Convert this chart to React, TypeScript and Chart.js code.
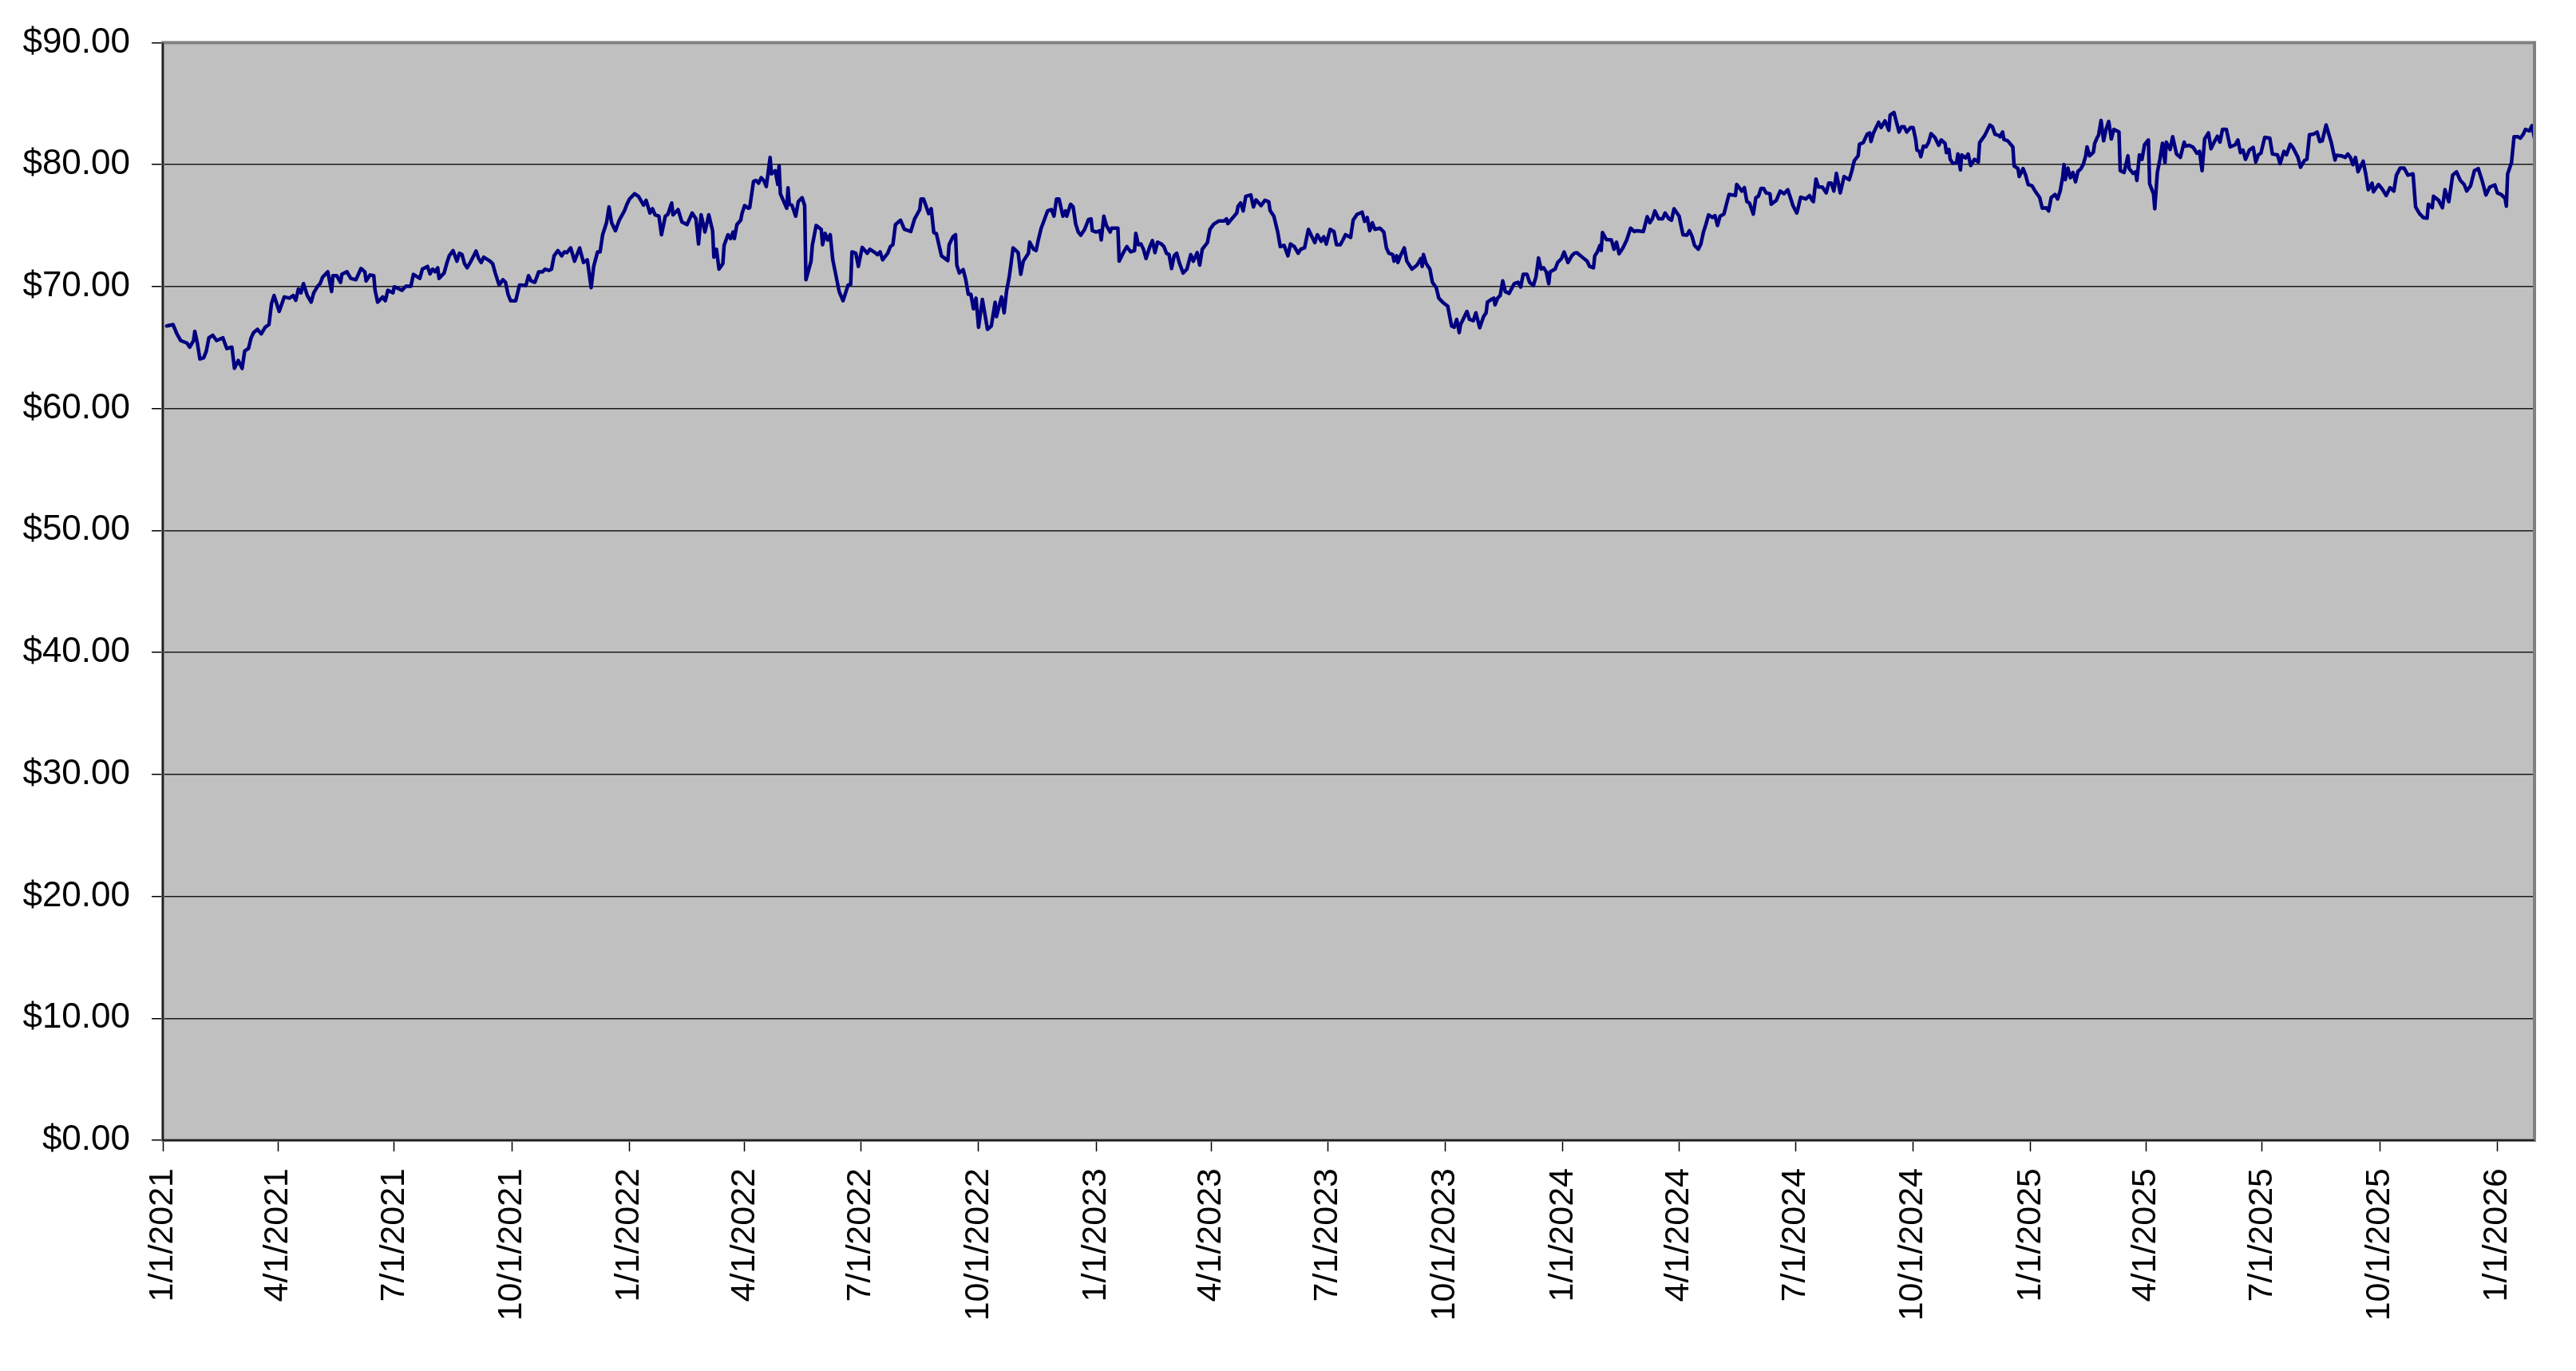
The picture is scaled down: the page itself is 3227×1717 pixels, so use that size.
import { useEffect, useRef } from "react";
import { Chart, registerables } from "chart.js";

Chart.register(...registerables);

// Axis reference date (x values are days since this date)
const startDate = "1/1/2021";

// Quarterly tick labels on the date axis
const tickDates = [
  "1/1/2021", "4/1/2021", "7/1/2021", "10/1/2021",
  "1/1/2022", "4/1/2022", "7/1/2022", "10/1/2022",
  "1/1/2023", "4/1/2023", "7/1/2023", "10/1/2023",
  "1/1/2024", "4/1/2024", "7/1/2024", "10/1/2024",
  "1/1/2025", "4/1/2025", "7/1/2025", "10/1/2025",
  "1/1/2026",
];

// Last date on the axis (days since start)
const axisEndDay = 1855;

// Y axis range and step (dollars)
const yMin = 0;
const yMax = 90;
const yStep = 10;

// Observation dates (days since 1/1/2021)
const daysSinceStart = [
  3, 8, 11, 14, 19, 21, 24, 25, 27, 29, 32, 34, 36, 39, 42, 47, 50, 54, 56, 59,
  62, 64, 67, 69, 71, 74, 77, 80, 83, 85, 87, 91, 95, 99, 102, 104, 106, 108, 110, 113,
  116, 118, 121, 123, 125, 129, 132, 133, 136, 139, 140, 144, 147, 151, 155, 158, 159, 162, 165, 166,
  168, 172, 174, 176, 180, 181, 185, 187, 190, 194, 196, 201, 203, 207, 209, 211, 213, 215, 216, 220,
  222, 224, 227, 230, 232, 234, 236, 238, 241, 245, 247, 249, 251, 256, 258, 260, 263, 266, 268, 270,
  272, 276, 279, 284, 286, 288, 291, 294, 297, 299, 302, 304, 306, 309, 312, 314, 316, 319, 322,
  326, 329, 332, 335, 337, 340, 342, 344, 347, 349, 351, 354, 357, 361, 363, 365, 369, 372, 376, 378,
  381, 383, 385, 388, 390, 393, 395, 398, 399, 403, 406, 410, 414, 417, 419, 421, 424, 427, 430, 431,
  433, 435, 438, 439, 442, 444, 446, 447, 449, 452, 453, 455, 458, 459, 462, 464, 466, 468, 470, 472,
  475, 476, 479, 481, 482, 483, 488, 489, 490, 492, 495, 497, 500, 502, 503, 507, 508, 511, 515, 516,
  518, 520, 522, 524, 529, 532, 536, 538, 539, 542, 544, 547, 551, 553, 557, 559, 561, 563, 567, 569,
  571, 573, 577, 580, 585, 588, 592, 593, 595, 599, 601, 603, 605, 607, 609, 614, 615, 618, 620, 621,
  623, 626, 628, 630, 632, 634,
  636, 638, 641, 645, 648, 651, 652, 656, 658, 660, 662, 663, 665, 669, 671, 673, 677, 678, 681, 683,
  685, 687, 689, 692, 695, 697, 699, 701, 704, 706, 707, 710, 712, 714, 716, 718, 721, 724, 726, 727,
  730, 733, 734, 736, 738, 741, 742, 747, 748, 751, 754, 757, 760, 761, 763, 765, 767, 769, 772, 774,
  776, 778, 781, 783, 785, 787, 789, 791, 793, 795, 798, 801, 804, 806, 809, 811, 813, 817, 819, 822,
  826, 830, 832, 833, 837, 840, 841, 843, 845, 847, 851, 853, 855, 859, 862, 865, 866, 869, 872, 874,
  877, 880, 882, 885, 888, 890, 893, 896, 898, 901, 903, 906, 908, 910, 913, 916, 918, 921, 923, 925,
  929, 931, 934, 938, 940, 942, 944,
  946, 948, 952, 955, 957, 959, 962, 963, 965, 966, 968, 971, 973, 977, 981, 984, 985, 986, 988, 991,
  993, 996, 998, 1001, 1005, 1006, 1008, 1010, 1012, 1014, 1015, 1017, 1020, 1022, 1025, 1027, 1030, 1033, 1035, 1036,
  1039, 1041, 1042, 1044, 1046, 1048, 1050, 1053, 1057, 1060, 1062, 1064, 1067, 1069, 1072, 1074, 1076, 1078, 1080, 1082,
  1084, 1085, 1089, 1091, 1094, 1096, 1099, 1102, 1104, 1106, 1111, 1114, 1116, 1119, 1120, 1122, 1124, 1125, 1126, 1129,
  1133, 1135, 1137, 1139, 1142, 1145, 1148, 1151, 1153, 1158, 1161, 1163, 1165, 1167, 1170, 1173, 1175, 1178, 1180, 1182,
  1186, 1187, 1189, 1192, 1194, 1196, 1198, 1201, 1203, 1205, 1207, 1209, 1212, 1214, 1216, 1218, 1221, 1223, 1225, 1228,
  1230, 1231, 1233, 1235, 1237, 1239, 1241, 1244, 1246, 1248, 1250, 1252, 1254, 1257, 1258,
  1262, 1265, 1268, 1271, 1273, 1275, 1278, 1279, 1281, 1285, 1288, 1290, 1291, 1293, 1295, 1298, 1301, 1303, 1305, 1307,
  1309, 1312, 1315, 1319, 1321, 1323, 1326, 1327, 1330, 1333, 1335, 1336, 1338, 1342, 1344, 1347, 1350, 1351, 1354, 1356,
  1358, 1360, 1362, 1364, 1367, 1369, 1371, 1372, 1374, 1375, 1377, 1379, 1381, 1383, 1386, 1389, 1391, 1394, 1395, 1397,
  1398, 1400, 1403, 1404, 1406, 1407, 1410, 1412, 1414, 1417, 1420, 1421, 1425, 1429, 1431, 1433, 1436, 1437, 1439, 1440,
  1443, 1447, 1448, 1451, 1452, 1455, 1457, 1459, 1462, 1464, 1468, 1470, 1473, 1475, 1477, 1480, 1482, 1484, 1486, 1487,
  1488, 1490, 1492, 1494, 1496, 1498, 1500, 1502, 1504, 1505, 1507, 1510, 1511, 1513, 1514, 1516, 1518, 1520, 1522, 1524,
  1526, 1530, 1531, 1534, 1537, 1538, 1541, 1543, 1544, 1546, 1548, 1550, 1553, 1554, 1557, 1558, 1560, 1562, 1564, 1566,
  1567, 1570,
  1572, 1575, 1578, 1581, 1582, 1585, 1588, 1591, 1593, 1595, 1597, 1600, 1602, 1605, 1607, 1609, 1611, 1614, 1617, 1621,
  1623, 1625, 1627, 1629, 1632, 1635, 1637, 1639, 1641, 1644, 1648, 1650, 1654, 1656, 1659, 1661, 1664, 1666, 1670, 1672,
  1675, 1677, 1679, 1682, 1685, 1687, 1689, 1692, 1696, 1699, 1700, 1704, 1707, 1709, 1711, 1713, 1715, 1717, 1721, 1723,
  1725, 1728, 1729, 1733, 1736, 1739, 1742, 1745, 1747, 1750, 1753, 1756, 1760, 1762, 1765, 1768, 1771, 1772, 1775, 1776,
  1780, 1783, 1785, 1788, 1791, 1794, 1797, 1800, 1802, 1805, 1808, 1811, 1814, 1817, 1820, 1824, 1826, 1829, 1832, 1833,
  1834, 1837, 1839, 1842, 1844, 1846, 1848, 1851, 1853, 1855,
];

// Closing price in dollars, one per date above
const closingPrices = [
  66.77, 66.88, 66.12, 65.57, 65.36, 65.03, 65.57, 66.33, 65.36, 64.06, 64.16, 64.71, 65.79, 66.01, 65.57, 65.79, 64.92, 65.03, 63.29, 63.94,
  63.29, 64.71, 64.92, 65.79, 66.23, 66.49, 66.12, 66.66, 66.88, 68.61, 69.26, 67.96, 69.15, 69.05, 69.26, 68.87, 69.8, 69.48, 70.24, 69.26,
  68.72, 69.48, 70.02, 70.24, 70.78, 71.21, 69.59, 70.89, 70.89, 70.35, 71.0, 71.21, 70.67, 70.56, 71.48, 71.21, 70.46, 70.95, 70.89, 69.69,
  68.72, 69.15, 68.83, 69.69, 69.48, 69.98, 69.8, 69.69, 70.02, 70.02, 71.0, 70.67, 71.43, 71.65, 71.04, 71.43, 71.21, 71.54, 70.67, 71.11,
  71.87, 72.52, 72.95, 72.08, 72.73, 72.62, 71.87, 71.54, 72.08, 72.91, 72.3, 71.97, 72.41, 72.08, 71.87, 71.11, 70.13, 70.56, 70.35, 69.37,
  68.83, 68.83, 70.13, 70.09, 70.89, 70.46, 70.35, 71.21, 71.21, 71.43, 71.32, 71.43, 72.52, 72.95, 72.52, 72.84, 72.78, 73.17, 72.08,
  73.17, 71.97, 72.19, 69.91, 71.65, 72.84, 72.84, 74.25, 75.23, 76.53, 75.23, 74.58, 75.44, 76.2, 76.75, 77.18, 77.61, 77.4, 76.68, 77.07,
  76.03, 76.38, 75.88, 75.77, 74.25, 75.77, 75.92, 76.85, 75.88, 76.31, 75.29, 75.08, 76.03, 75.55, 73.49, 75.88, 74.47, 75.88, 74.58, 72.41,
  73.06, 71.43, 71.87, 73.38, 74.25, 73.93, 74.47, 73.93, 75.08, 75.44, 75.99, 76.64, 76.42, 76.46, 78.63, 78.7, 78.48, 78.92, 78.7, 78.2,
  80.59, 79.24, 79.5, 78.37, 79.89, 77.61, 76.42, 78.09, 76.75, 76.68, 75.77, 76.96, 77.29, 76.64, 70.56, 72.08, 73.38, 75.01, 74.69, 73.43,
  74.36, 73.82, 74.25, 72.19, 69.59, 68.83, 70.13, 70.17, 72.84, 72.73, 71.65, 73.21, 72.73, 73.06, 72.78, 72.62, 72.84, 72.19, 72.73, 73.28,
  73.43, 75.08, 75.44, 74.69, 74.51, 75.55, 76.31, 77.18, 77.18, 75.99, 76.38, 74.43, 74.34, 73.43, 72.52, 72.13, 73.43, 74.08, 74.25, 71.76,
  71.11, 71.39, 70.56, 69.37, 69.37, 68.18,
  69.05, 66.66, 68.94, 66.49, 66.77, 68.72, 67.53, 69.15, 67.85, 69.69, 70.78, 71.54, 73.17, 72.78, 71.0, 72.08, 72.73, 73.64, 73.06, 72.95,
  73.93, 74.79, 75.34, 76.2, 76.31, 75.77, 77.18, 77.18, 75.77, 76.2, 75.77, 76.75, 76.53, 75.12, 74.47, 74.21, 74.69, 75.49, 75.55, 74.58,
  74.47, 74.58, 73.82, 75.77, 75.01, 74.47, 74.79, 74.79, 72.08, 72.73, 73.28, 72.84, 72.95, 74.36, 73.43, 73.49, 73.06, 72.3, 73.28, 73.77,
  72.78, 73.64, 73.49, 73.28, 72.73, 72.62, 71.48, 72.52, 72.73, 71.97, 71.11, 71.43, 72.62, 72.08, 72.78, 71.76, 73.06, 73.6, 74.69, 75.12,
  75.38, 75.38, 75.55, 75.16, 75.66, 76.03, 76.59, 76.85, 76.2, 77.4, 77.51, 76.53, 77.11, 76.64, 77.07, 76.96, 76.25, 75.77, 74.47, 73.28,
  73.38, 72.52, 73.49, 73.28, 72.73, 73.06, 73.17, 74.69, 74.25, 73.6, 74.25, 73.71, 74.08, 73.49, 74.69, 74.51, 73.43, 73.43, 73.82, 74.25,
  74.03, 75.44, 75.92, 76.1, 75.34, 75.66, 74.58,
  75.23, 74.69, 74.79, 74.47, 73.17, 72.73, 72.62, 72.08, 72.52, 71.97, 72.52, 73.17, 72.08, 71.43, 71.76, 72.3, 71.65, 72.62, 71.91, 71.43,
  70.35, 69.91, 69.05, 68.72, 68.39, 67.85, 66.77, 66.66, 67.31, 66.23, 66.88, 67.31, 67.96, 67.31, 67.2, 67.85, 66.62, 67.53, 67.85, 68.72,
  68.94, 69.05, 68.5, 69.05, 69.26, 70.46, 69.59, 69.44, 70.24, 70.35, 69.96, 71.0, 71.0, 70.35, 70.09, 70.78, 72.34, 71.43, 71.54, 71.21,
  70.24, 71.21, 71.43, 71.97, 72.3, 72.84, 71.97, 72.52, 72.73, 72.78, 72.34, 72.08, 71.65, 71.54, 72.52, 72.84, 73.38, 72.95, 74.43, 73.86,
  73.82, 73.06, 73.64, 72.69, 73.17, 73.82, 74.79, 74.51, 74.58, 74.51, 75.73, 75.23, 75.55, 76.2, 75.55, 75.55, 76.03, 75.55, 75.44, 76.38,
  75.77, 75.23, 74.25, 74.21, 74.58, 74.14, 73.38, 73.06, 73.49, 74.47, 75.12, 75.88, 75.66, 75.81, 75.01, 75.77, 75.94, 76.75, 77.55, 77.51,
  77.46, 78.37, 78.11, 77.83, 78.11, 76.96, 76.85, 75.94, 77.29, 77.4, 78.05, 78.05, 77.68, 77.61, 76.75,
  77.07, 77.83, 77.61, 77.94, 77.29, 76.64, 76.03, 76.42, 77.33, 77.18, 77.46, 77.07, 76.96, 78.81, 78.16, 78.16, 77.68, 78.48, 78.48, 77.83,
  79.28, 77.68, 79.02, 78.76, 79.46, 80.33, 80.72, 81.67, 81.8, 82.49, 82.6, 81.89, 82.6, 83.47, 83.04, 83.58, 82.82, 84.06, 84.27, 83.47,
  82.67, 83.1, 83.1, 82.67, 83.04, 83.04, 82.06, 81.19, 81.08, 80.65, 81.52, 81.45, 81.8, 82.54, 82.23, 81.58, 82.02, 81.74, 80.98, 81.24,
  80.43, 80.11, 80.15, 80.87, 79.57, 80.8, 80.54, 80.87, 79.93, 80.43, 80.22, 81.8, 82.39, 83.25, 83.1, 82.49, 82.39, 82.28, 82.67, 82.06,
  81.95, 81.45, 79.89, 79.67, 79.02, 79.67, 79.13, 78.37, 78.26, 77.9, 77.29, 76.42, 76.46, 76.2, 77.29, 77.55, 77.18, 77.83, 79.02, 80.0,
  78.76, 79.72, 78.92, 79.35, 78.59, 79.46, 79.63, 80.0, 80.72, 81.45, 80.72, 81.02, 81.74, 82.23, 82.39, 83.62, 81.95, 82.93, 83.54, 82.1,
  82.89, 82.67, 79.5, 79.35, 80.72, 79.67, 79.28, 79.41, 78.7, 80.8, 80.43, 81.63, 82.02, 78.42, 77.61, 76.38, 79.35, 80.43, 81.74, 80.15,
  81.84, 81.24,
  82.28, 80.87, 80.59, 81.84, 81.52, 81.58, 81.41, 80.93, 81.08, 79.5, 82.1, 82.6, 81.3, 81.95, 82.32, 81.84, 82.89, 82.89, 81.45, 81.63,
  82.02, 80.98, 81.19, 80.43, 81.19, 81.41, 80.22, 80.8, 80.93, 82.23, 82.17, 80.87, 80.8, 80.07, 81.08, 80.8, 81.67, 81.41, 80.59, 79.78,
  80.33, 80.43, 82.45, 82.49, 82.67, 81.89, 81.95, 83.25, 81.84, 80.37, 80.76, 80.72, 80.59, 80.87, 80.59, 80.0, 80.59, 79.41, 80.28, 79.24,
  77.94, 78.48, 77.77, 78.37, 77.98, 77.46, 78.11, 77.83, 79.13, 79.72, 79.72, 79.13, 79.24, 76.53, 75.99, 75.66, 75.6, 76.75, 76.46, 77.4,
  77.07, 76.46, 77.94, 76.96, 79.13, 79.41, 78.7, 78.37, 77.83, 78.26, 79.5, 79.67, 78.7, 77.51, 78.16, 78.33, 77.68, 77.55, 77.24, 76.59,
  79.24, 80.15, 82.28, 82.28, 82.17, 82.45, 82.89, 82.76, 83.19, 82.17,
];

const FONT_FAMILY = "'Liberation Sans', Arial, Helvetica, sans-serif";

function parseUS(s: string): number {
  const [m, d, y] = s.split("/").map(Number);
  return Date.UTC(y, m - 1, d);
}

function dayOf(s: string): number {
  return Math.round((parseUS(s) - parseUS(startDate)) / 86400000);
}

const plotFrame = {
  id: "plotFrame",
  beforeDraw(chart: any) {
    const { ctx, chartArea: a } = chart;
    ctx.save();
    ctx.fillStyle = "#C0C0C0";
    ctx.fillRect(a.left, a.top, a.right - a.left, a.bottom - a.top);
    ctx.restore();
  },
  afterDatasetsDraw(chart: any) {
    const { ctx, chartArea: a } = chart;
    ctx.save();
    ctx.strokeStyle = "#808080";
    ctx.lineWidth = 4;
    ctx.strokeRect(a.left, a.top, a.right - a.left, a.bottom - a.top);
    ctx.strokeStyle = "#000000";
    ctx.lineWidth = 1.5;
    ctx.beginPath();
    ctx.moveTo(a.left, a.top);
    ctx.lineTo(a.left, a.bottom);
    ctx.lineTo(a.right, a.bottom);
    ctx.stroke();
    ctx.restore();
  },
};

export default function App() {
  const canvasRef = useRef<HTMLCanvasElement | null>(null);

  useEffect(() => {
    const canvas = canvasRef.current;
    if (!canvas) return;
    const tickDays = tickDates.map(dayOf);
    const points = daysSinceStart.map((d, i) => ({ x: d, y: closingPrices[i] }));

    const chart = new Chart(canvas, {
      type: "line",
      data: {
        datasets: [
          {
            data: points,
            borderColor: "#000080",
            borderWidth: 4.5,
            pointRadius: 0,
            pointHoverRadius: 0,
            tension: 0,
            fill: false,
            borderJoinStyle: "round",
            borderCapStyle: "round",
          },
        ],
      },
      options: {
        animation: false,
        responsive: true,
        maintainAspectRatio: false,
        layout: { padding: { top: 44, right: 52, left: 0, bottom: 0 } },
        plugins: { legend: { display: false }, tooltip: { enabled: false } },
        scales: {
          x: {
            type: "linear",
            min: 0,
            max: axisEndDay,
            afterBuildTicks: (scale: any) => {
              scale.ticks = tickDays.map((v) => ({ value: v }));
            },
            afterFit: (scale: any) => {
              scale.height = 289;
            },
            border: { display: false },
            grid: {
              drawOnChartArea: false,
              drawTicks: true,
              tickLength: 14,
              tickColor: "#000000",
              tickWidth: 1.5,
            },
            ticks: {
              autoSkip: false,
              maxRotation: 90,
              minRotation: 90,
              padding: 21,
              color: "#000000",
              font: { family: FONT_FAMILY, size: 43 },
              callback: (_v: any, i: number) => tickDates[i],
            },
          },
          y: {
            min: yMin,
            max: yMax,
            afterFit: (scale: any) => {
              scale.width = 204;
            },
            border: { display: false },
            grid: {
              color: "#1a1a1a",
              lineWidth: 1.5,
              drawTicks: true,
              tickLength: 14,
              tickColor: "#000000",
              tickWidth: 1.5,
            },
            ticks: {
              stepSize: yStep,
              padding: 27,
              color: "#000000",
              font: { family: FONT_FAMILY, size: 44 },
              callback: (v: any) => "$" + Number(v).toFixed(2),
            },
          },
        },
      },
      plugins: [plotFrame],
    } as any);

    return () => chart.destroy();
  }, []);

  return (
    <div
      style={{
        position: "fixed",
        left: 0,
        top: 0,
        width: 3227,
        height: 1717,
        background: "#ffffff",
      }}
    >
      <canvas ref={canvasRef} />
    </div>
  );
}
